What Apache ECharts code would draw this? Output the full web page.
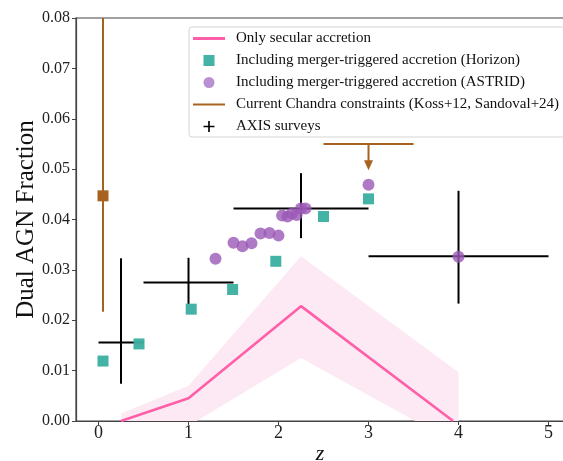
<!DOCTYPE html>
<html><head><meta charset="utf-8">
<script src="https://cdn.jsdelivr.net/npm/echarts@6/dist/echarts.min.js"></script>
<style>html,body{margin:0;padding:0;background:#fff}#c{width:563px;height:461px}</style>
</head><body><div id="c"></div>
<script>
// ---- data ----
const secularLine = [[0.25, 0.0], [1.0, 0.0045], [2.25, 0.0228], [3.94, 0.0]];
const secularUpper = [[0.25, 0.0015], [1.0, 0.0070], [2.25, 0.0327], [4.0, 0.0097]];
const secularLower = [[0.25, 0.0], [1.09, 0.0], [2.25, 0.0125], [3.52, 0.0], [4.0, 0.0]];
const horizon = [[0.05, 0.0119], [0.45, 0.0153], [1.03, 0.0222], [1.49, 0.0261], [1.97, 0.0317], [2.5, 0.0406], [3.0, 0.0441]];
const astrid = [[1.30, 0.0322], [1.50, 0.0354], [1.60, 0.0347], [1.70, 0.0353], [1.80, 0.0372], [1.90, 0.0373], [2.00, 0.0368],
  [2.04, 0.0408], [2.10, 0.0406], [2.15, 0.0412], [2.20, 0.0409], [2.25, 0.0422], [2.30, 0.0422], [3.0, 0.0469], [4.0, 0.0326]];
// [z, f, fLow, fHigh]
const chandraPoint = [[0.05, 0.0447, 0.0217, 0.08]];
// [z, fLimit, zLow, zHigh, arrowTip]
const chandraLimit = [[3.0, 0.055, 2.5, 3.5, 0.0498]];
// [z, f, zLow, zHigh, fLow, fHigh]
const axisSurveys = [[0.25, 0.0156, 0.0, 0.5, 0.0074, 0.0323], [1.0, 0.0275, 0.5, 1.5, 0.0232, 0.0324],
  [2.25, 0.0422, 1.5, 3.0, 0.0363, 0.0492], [4.0, 0.0327, 3.0, 5.0, 0.0233, 0.0457]];
const xTicks = [0, 1, 2, 3, 4, 5];

const PINK = '#ff5fa8', BAND = '#fde9f3', TEAL = '#3aafa0', PURPLE = '#9b59b6', BROWN = '#a8621f';
const FONT = 'Liberation Serif';
const N1 = 'Only secular accretion', N2 = 'Including merger-triggered accretion (Horizon)',
  N3 = 'Including merger-triggered accretion (ASTRID)', N4 = 'Current Chandra constraints (Koss+12, Sandoval+24)', N5 = 'AXIS surveys';

const chart = echarts.init(document.getElementById('c'), null, {renderer: 'canvas'});
function seg(a, b, color, w) {
  return {type: 'line', shape: {x1: a[0], y1: a[1], x2: b[0], y2: b[1]}, style: {stroke: color, lineWidth: w}};
}
chart.setOption({
  animation: false,
  grid: {left: 76, top: 18, right: -1, bottom: 40, show: true, borderColor: '#444', borderWidth: 1.2,
    outerBoundsMode: 'none', containLabel: false},
  xAxis: {
    type: 'value', min: -0.25, max: 5.172,
    name: 'z', nameLocation: 'middle', nameGap: 22, nameMoveOverlap: false,
    nameTextStyle: {fontFamily: FONT, fontSize: 22, fontStyle: 'italic', color: '#111'},
    axisLine: {show: true, onZero: false, lineStyle: {color: '#444', width: 1.2}},
    axisTick: {show: true, length: 4, customValues: xTicks, lineStyle: {color: '#444'}},
    axisLabel: {customValues: xTicks, fontFamily: FONT, fontSize: 18, color: '#222', margin: 3},
    splitLine: {show: false}
  },
  yAxis: {
    type: 'value', min: 0, max: 0.08, interval: 0.01,
    name: 'Dual AGN Fraction', nameLocation: 'middle', nameGap: 37, nameMoveOverlap: false,
    nameTextStyle: {fontFamily: FONT, fontSize: 25, color: '#111'},
    axisLine: {show: true, onZero: false, lineStyle: {color: '#444', width: 1.2}},
    axisTick: {show: true, length: 4, lineStyle: {color: '#444'}},
    axisLabel: {fontFamily: FONT, fontSize: 16, color: '#222', margin: 6, formatter: v => v.toFixed(2)},
    splitLine: {show: false}
  },
  legend: {
    left: 189, top: 27, orient: 'vertical', itemWidth: 32, itemHeight: 11, itemGap: 7,
    padding: [4, 10, 3, 4], borderColor: '#d4d4d4', borderWidth: 1, borderRadius: 3,
    backgroundColor: 'rgba(255,255,255,0.8)',
    textStyle: {fontFamily: FONT, fontSize: 15, color: '#111', padding: [0, 0, 0, 6]},
    data: [
      {name: N1, icon: 'path://M0,0h32v3h-32z', itemStyle: {color: PINK}},
      {name: N2, icon: 'path://M0,0h10v10h-10z', itemStyle: {color: TEAL}},
      {name: N3, icon: 'circle', itemStyle: {color: '#a874c8'}},
      {name: N4, icon: 'path://M0,0h32v2h-32z', itemStyle: {color: BROWN}},
      {name: N5, icon: 'path://M0,5.1h12v1.8h-12z M5.1,0h1.8v12h-1.8z', itemStyle: {color: '#000'}}
    ]
  },
  series: [
    {
      type: 'custom', name: 'band', silent: true, z: 1, data: secularUpper,
      encode: {x: 0, y: 1},
      renderItem: (params, api) => {
        if (params.dataIndex !== 0) return null;
        const pts = secularUpper.map(d => api.coord(d)).concat(secularLower.slice().reverse().map(d => api.coord(d)));
        return {type: 'polygon', shape: {points: pts}, style: {fill: BAND}};
      }
    },
    {
      type: 'line', name: N1, z: 2, data: secularLine, symbol: 'none',
      lineStyle: {color: PINK, width: 2.6}, itemStyle: {color: PINK}
    },
    {
      type: 'custom', name: N5, z: 3, data: axisSurveys, encode: {x: 0, y: 1},
      itemStyle: {color: '#000'},
      renderItem: (params, api) => {
        const z = api.value(0), f = api.value(1);
        const a = api.coord([api.value(2), f]), b = api.coord([api.value(3), f]);
        const c = api.coord([z, api.value(4)]), d = api.coord([z, api.value(5)]);
        return {type: 'group', children: [seg(a, b, '#000', 2), seg(c, d, '#000', 2)]};
      }
    },
    {
      type: 'custom', name: N4, z: 3, data: chandraPoint, encode: {x: 0, y: 1},
      itemStyle: {color: BROWN},
      renderItem: (params, api) => {
        const z = api.value(0);
        const p = api.coord([z, api.value(1)]);
        const lo = api.coord([z, api.value(2)]), hi = api.coord([z, api.value(3)]);
        return {type: 'group', children: [
          seg(lo, hi, BROWN, 2),
          {type: 'rect', shape: {x: p[0] - 5.5, y: p[1] - 5.5, width: 11, height: 11}, style: {fill: BROWN}}
        ]};
      }
    },
    {
      type: 'custom', name: N4, z: 3, data: chandraLimit, encode: {x: 0, y: 1},
      itemStyle: {color: BROWN},
      renderItem: (params, api) => {
        const z = api.value(0), f = api.value(1);
        const a = api.coord([api.value(2), f]), b = api.coord([api.value(3), f]);
        const top = api.coord([z, f]), tip = api.coord([z, api.value(4)]);
        return {type: 'group', children: [
          seg(a, b, BROWN, 2),
          seg(top, [tip[0], tip[1] - 8], BROWN, 2),
          {type: 'polygon', shape: {points: [[tip[0], tip[1]], [tip[0] - 4.5, tip[1] - 10], [tip[0] + 4.5, tip[1] - 10]]}, style: {fill: BROWN}}
        ]};
      }
    },
    {
      type: 'scatter', name: N2, z: 4, data: horizon, symbol: 'rect', symbolSize: 11,
      itemStyle: {color: TEAL, opacity: 0.95}
    },
    {
      type: 'scatter', name: N3, z: 5, data: astrid, symbol: 'circle', symbolSize: 12,
      itemStyle: {color: PURPLE, opacity: 0.8}
    }
  ]
});
</script></body></html>
